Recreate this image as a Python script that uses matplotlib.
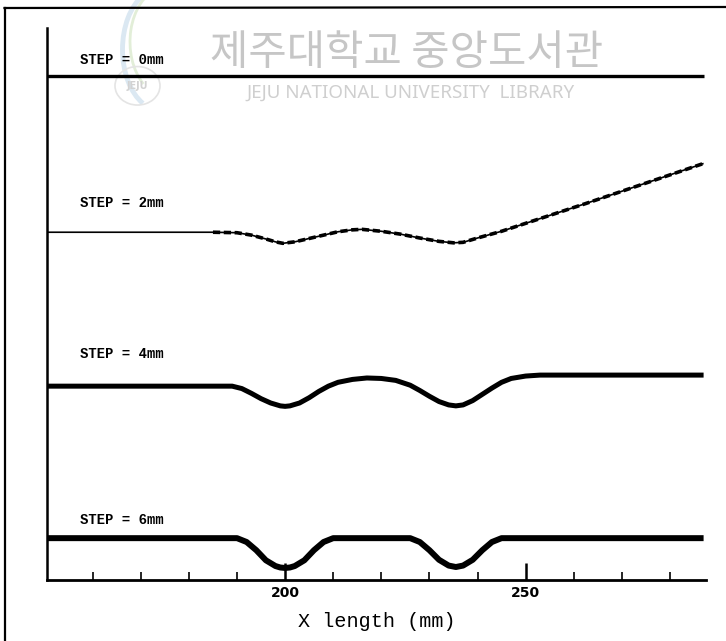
import matplotlib
matplotlib.use("Agg")
import matplotlib.pyplot as plt
from matplotlib.lines import Line2D
from matplotlib.patches import Arc
import numpy as np

# Surface profiles along the x direction for each step height (mm)
step_labels = ["STEP = 0mm", "STEP = 2mm", "STEP = 4mm", "STEP = 6mm"]
baselines = [104.8, 72.3, 40.3, 8.7]          # vertical offset of each profile
label_heights = [108.1, 78.4, 47.0, 12.5]

x_step0 = [150.5, 287.0]
y_step0 = [0.0, 0.0]

x_step2 = [150.5, 185.0, 190.0, 193.0, 196.0, 198.0, 199.5, 202.0, 205.0, 208.0,
           211.0, 214.0, 216.0, 220.0, 224.0, 228.0, 232.0, 235.0, 237.0, 240.0,
           245.0, 262.6, 287.0]
y_step2 = [0.0, 0.0, -0.1, -0.6, -1.4, -2.0, -2.3, -2.0, -1.3, -0.6,
           0.1, 0.5, 0.6, 0.2, -0.4, -1.2, -1.9, -2.2, -2.1, -1.2,
           0.2, 6.0, 14.3]

x_step4 = [150.5, 189.0, 191.0, 193.0, 195.0, 197.0, 199.0, 200.0, 201.0, 203.0,
           205.0, 207.0, 209.0, 211.0, 214.0, 217.0, 220.0, 223.0, 226.0, 228.0,
           230.0, 232.0, 234.0, 235.5, 237.0, 239.0, 241.0, 243.0, 245.0, 247.0,
           250.0, 253.0, 287.0]
y_step4 = [0.0, 0.0, -0.5, -1.5, -2.6, -3.5, -4.1, -4.2, -4.1, -3.5,
           -2.4, -1.1, 0.0, 0.8, 1.4, 1.7, 1.6, 1.2, 0.2, -0.9,
           -2.1, -3.2, -3.9, -4.1, -3.9, -3.0, -1.7, -0.4, 0.8, 1.6,
           2.1, 2.3, 2.3]

x_step6 = [150.5, 190.0, 192.0, 194.0, 196.0, 198.0, 199.0, 200.0, 201.0, 202.0,
           204.0, 206.0, 208.0, 210.0, 226.0, 228.0, 230.0, 232.0, 234.0, 235.5,
           237.0, 239.0, 241.0, 243.0, 245.0, 287.0]
y_step6 = [0.0, 0.0, -0.8, -2.5, -4.6, -5.8, -6.1, -6.2, -6.1, -5.8,
           -4.6, -2.5, -0.8, 0.0, 0.0, -0.8, -2.5, -4.5, -5.7, -6.0,
           -5.7, -4.5, -2.5, -0.8, 0.0, 0.0]

profiles = [(x_step0, y_step0), (x_step2, y_step2), (x_step4, y_step4), (x_step6, y_step6)]
line_widths = [2.4, 1.2, 3.6, 4.3]

major_ticks = [200, 250]
minor_ticks = [160, 170, 180, 190, 210, 220, 230, 240, 260, 270, 280]

W, H = 726, 641
fig = plt.figure(figsize=(W / 100, H / 100), dpi=100)
fig.patch.set_facecolor("white")

# Library watermark behind the plot
fig.text(407 / W, 1 - 54 / H, "제주대학교 중앙도서관", family=["Noto Sans CJK KR", "DejaVu Sans"],
         fontsize=30, color="#c6c6c6", ha="center", va="center", zorder=0)
fig.text(410 / W, 1 - 93 / H, "JEJU NATIONAL UNIVERSITY  LIBRARY", family=["Noto Sans", "DejaVu Sans"],
         fontsize=13.5, color="#cfcfcf", ha="center", va="center", zorder=0)
logo = fig.add_axes([100 / W, 1 - 110 / H, 75 / W, 110 / H])
logo.set_xlim(0, 1)
logo.set_ylim(0, 1)
logo.axis("off")
logo.add_patch(Arc((0.8, 0.55), 1.0, 1.1, theta1=115, theta2=245, color="#dbe8f2", lw=3.5))
logo.add_patch(Arc((0.9, 0.62), 1.0, 1.0, theta1=105, theta2=230, color="#e2eed8", lw=2))
logo.add_patch(Arc((0.5, 0.22), 0.6, 0.35, theta1=0, theta2=360, color="#e4e4e4", lw=1.2))
logo.text(0.5, 0.22, "JEJU", fontsize=7, color="#d2d2d2", ha="center", va="center",
          fontweight="bold")

# Outer frame (left and top edges)
fig.add_artist(Line2D([4.5 / W, 4.5 / W], [0, 1 - 8 / H], transform=fig.transFigure,
                      color="black", lw=1.6))
fig.add_artist(Line2D([4.5 / W, 1.0], [1 - 8 / H, 1 - 7 / H], transform=fig.transFigure,
                      color="black", lw=1.6))

ax = fig.add_axes([47 / W, 1 - 580 / H, (706 - 47) / W, (580 - 28) / H])
ax.set_facecolor("none")
ax.set_xlim(150.5, 287.5)
ax.set_ylim(0, (580 - 28) / 4.81)

for (xs, ys), base, lw in zip(profiles, baselines, line_widths):
    ax.plot(xs, np.array(ys) + base, color="black", lw=lw, solid_capstyle="butt",
            solid_joinstyle="round")

# the 2 mm trace is recorded as a rough, stippled band after the flat lead-in
ax.plot(x_step2[1:], np.array(y_step2[1:]) + baselines[1], color="black", lw=2.6,
        linestyle=(0, (2.0, 1.0)))

for lab, yl in zip(step_labels, label_heights):
    ax.text(157.4, yl, lab, family="Liberation Mono", fontweight="bold", fontsize=10,
            ha="left", va="center")

for side in ["top", "right"]:
    ax.spines[side].set_visible(False)
ax.spines["left"].set_linewidth(1.8)
ax.spines["bottom"].set_linewidth(2.0)

ax.set_yticks([])
ax.set_xticks(major_ticks)
ax.set_xticklabels([str(t) for t in major_ticks], fontweight="bold", fontsize=10,
                   family="DejaVu Sans")
ax.set_xticks(minor_ticks, minor=True)
ax.tick_params(axis="x", which="major", direction="in", length=12, width=1.8, pad=4)
ax.tick_params(axis="x", which="minor", direction="in", length=6, width=1.2)

ax.set_xlabel("X length (mm)", family="Liberation Mono", fontsize=14.5, labelpad=9)

fig.savefig("out.png", dpi=100, facecolor="white")
